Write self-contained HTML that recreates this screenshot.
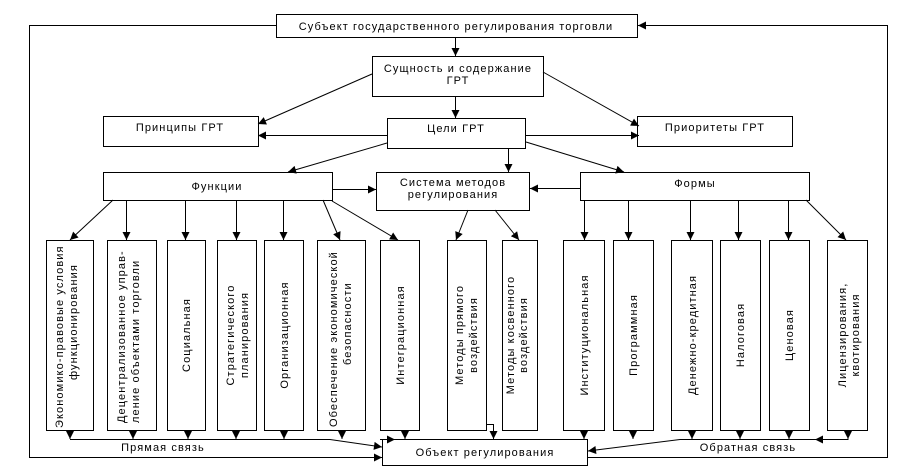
<!DOCTYPE html>
<html><head><meta charset="utf-8"><style>
html,body{margin:0;padding:0;background:#fff;}
svg{display:block;}
text{font-family:"Liberation Sans",sans-serif;font-size:11px;fill:#000;letter-spacing:1.1px;}
</style></head><body>
<svg width="900" height="475" viewBox="0 0 900 475" xmlns="http://www.w3.org/2000/svg">
<defs>
<marker id="a" viewBox="0 0 10 10" refX="10" refY="5" markerWidth="12" markerHeight="8" markerUnits="userSpaceOnUse" orient="auto"><path d="M0,0L10,5L0,10z" fill="#000"/></marker>
</defs>
<g fill="none" stroke="#000" stroke-width="1">
<rect x="276.5" y="14.5" width="361" height="23"/>
<rect x="372.5" y="56.5" width="171" height="40"/>
<rect x="103.5" y="116.5" width="155" height="30"/>
<rect x="387.5" y="118.5" width="138" height="30"/>
<rect x="637.5" y="116.5" width="155" height="30"/>
<rect x="103.5" y="172.5" width="229" height="28"/>
<rect x="376.5" y="172.5" width="153" height="38"/>
<rect x="580.5" y="172.5" width="229" height="28"/>
<rect x="382.5" y="439.5" width="205" height="26"/>
<rect x="46.5" y="240.5" width="47" height="190"/>
<rect x="107.5" y="240.5" width="49" height="190"/>
<rect x="167.5" y="240.5" width="38" height="190"/>
<rect x="217.5" y="240.5" width="39" height="190"/>
<rect x="264.5" y="240.5" width="39" height="190"/>
<rect x="317.5" y="240.5" width="48" height="190"/>
<rect x="380.5" y="240.5" width="39" height="190"/>
<rect x="447.5" y="240.5" width="39" height="190"/>
<rect x="502.5" y="240.5" width="35" height="190"/>
<rect x="563.5" y="240.5" width="41" height="190"/>
<rect x="613.5" y="240.5" width="40" height="190"/>
<rect x="671.5" y="240.5" width="41" height="190"/>
<rect x="720.5" y="240.5" width="40" height="190"/>
<rect x="769.5" y="240.5" width="40" height="190"/>
<rect x="827.5" y="240.5" width="40" height="190"/>
<polyline points="276,25.5 29.5,25.5 29.5,457.5 382,457.5" marker-end="url(#a)"/>
<polyline points="587,457.5 887.5,457.5 887.5,25.5 638,25.5" marker-end="url(#a)"/>
<line x1="455.5" y1="37" x2="455.5" y2="56" marker-end="url(#a)"/>
<line x1="455.5" y1="96" x2="455.5" y2="118" marker-end="url(#a)"/>
<line x1="372" y1="74" x2="258" y2="124" marker-end="url(#a)"/>
<line x1="543" y1="72" x2="639" y2="126" marker-end="url(#a)"/>
<line x1="387" y1="135.5" x2="258" y2="135.5" marker-end="url(#a)"/>
<line x1="525" y1="135.5" x2="639" y2="135.5" marker-end="url(#a)"/>
<line x1="387" y1="143" x2="288" y2="172" marker-end="url(#a)"/>
<line x1="508.5" y1="148" x2="508.5" y2="172" marker-end="url(#a)"/>
<line x1="526" y1="142" x2="624" y2="172" marker-end="url(#a)"/>
<line x1="332" y1="189.5" x2="376" y2="189.5" marker-end="url(#a)"/>
<line x1="580" y1="188.5" x2="530" y2="188.5" marker-end="url(#a)"/>
<line x1="113" y1="200" x2="70" y2="240" marker-end="url(#a)"/>
<line x1="126.5" y1="200" x2="126.5" y2="240" marker-end="url(#a)"/>
<line x1="185.5" y1="200" x2="185.5" y2="240" marker-end="url(#a)"/>
<line x1="236.5" y1="200" x2="236.5" y2="240" marker-end="url(#a)"/>
<line x1="283.5" y1="200" x2="283.5" y2="240" marker-end="url(#a)"/>
<line x1="323" y1="200" x2="340" y2="240" marker-end="url(#a)"/>
<line x1="332" y1="201" x2="398" y2="240" marker-end="url(#a)"/>
<line x1="468" y1="210" x2="456" y2="240" marker-end="url(#a)"/>
<line x1="495" y1="210" x2="519" y2="240" marker-end="url(#a)"/>
<line x1="584.5" y1="200" x2="584.5" y2="240" marker-end="url(#a)"/>
<line x1="628.5" y1="200" x2="628.5" y2="240" marker-end="url(#a)"/>
<line x1="690.5" y1="200" x2="690.5" y2="240" marker-end="url(#a)"/>
<line x1="738.5" y1="200" x2="738.5" y2="240" marker-end="url(#a)"/>
<line x1="788.5" y1="200" x2="788.5" y2="240" marker-end="url(#a)"/>
<line x1="806" y1="200" x2="846" y2="240" marker-end="url(#a)"/>
<line x1="70" y1="430" x2="70" y2="439" marker-end="url(#a)"/>
<line x1="133" y1="430" x2="133" y2="439" marker-end="url(#a)"/>
<line x1="188" y1="430" x2="188" y2="439" marker-end="url(#a)"/>
<line x1="236" y1="430" x2="236" y2="439" marker-end="url(#a)"/>
<line x1="284" y1="430" x2="284" y2="439" marker-end="url(#a)"/>
<line x1="342" y1="430" x2="342" y2="439" marker-end="url(#a)"/>
<line x1="405" y1="430" x2="405" y2="439" marker-end="url(#a)"/>
<line x1="584" y1="430" x2="584" y2="439" marker-end="url(#a)"/>
<line x1="633" y1="430" x2="633" y2="439" marker-end="url(#a)"/>
<line x1="692" y1="430" x2="692" y2="439" marker-end="url(#a)"/>
<line x1="740" y1="430" x2="740" y2="439" marker-end="url(#a)"/>
<line x1="789" y1="430" x2="789" y2="439" marker-end="url(#a)"/>
<line x1="848" y1="430" x2="848" y2="439" marker-end="url(#a)"/>
<polyline points="486,424.5 493.5,424.5 493.5,439" marker-end="url(#a)"/>
<polyline points="70,439.5 330,439.5 382,447" marker-end="url(#a)"/>
<line x1="380" y1="439.5" x2="395" y2="439.5" marker-end="url(#a)"/>
<polyline points="848,432.5 848,439.5 815,439.5" marker-end="url(#a)"/>
<polyline points="848,439.5 680,439.5 588,451" marker-end="url(#a)"/>
</g>
<g>
<text x="456" y="30" text-anchor="middle">Субъект государственного регулирования торговли</text>
<text x="458" y="72" text-anchor="middle">Сущность и содержание</text>
<text x="458" y="84" text-anchor="middle">ГРТ</text>
<text x="180" y="131" text-anchor="middle">Принципы ГРТ</text>
<text x="456" y="132" text-anchor="middle">Цели ГРТ</text>
<text x="715" y="131" text-anchor="middle">Приоритеты ГРТ</text>
<text x="217" y="190" text-anchor="middle">Функции</text>
<text x="453" y="186" text-anchor="middle">Система методов</text>
<text x="453" y="198" text-anchor="middle">регулирования</text>
<text x="695" y="187" text-anchor="middle">Формы</text>
<text x="485" y="456" text-anchor="middle">Объект регулирования</text>
<text x="163" y="451" text-anchor="middle">Прямая связь</text>
<text x="748" y="451" text-anchor="middle">Обратная связь</text>
</g>
<g>
<text transform="translate(63,428) rotate(-90)">Экономико-правовые условия</text>
<text transform="translate(77,380) rotate(-90)">функционирования</text>
<text transform="translate(125,423) rotate(-90)">Децентрализованное управ-</text>
<text transform="translate(139,423) rotate(-90)">ление объектами торговли</text>
<text transform="translate(190,335) rotate(-90) " text-anchor="middle">Социальная</text>
<text transform="translate(234,335) rotate(-90)" text-anchor="middle">Стратегического</text>
<text transform="translate(248,335) rotate(-90)" text-anchor="middle">планирования</text>
<text transform="translate(288,335) rotate(-90)" text-anchor="middle">Организационная</text>
<text transform="translate(337,427) rotate(-90)">Обеспечение экономической</text>
<text transform="translate(351,365) rotate(-90)">безопасности</text>
<text transform="translate(404,335) rotate(-90)" text-anchor="middle">Интеграционная</text>
<text transform="translate(463,335) rotate(-90)" text-anchor="middle">Методы прямого</text>
<text transform="translate(477,335) rotate(-90)" text-anchor="middle">воздействия</text>
<text transform="translate(514,335) rotate(-90)" text-anchor="middle">Методы косвенного</text>
<text transform="translate(527,335) rotate(-90)" text-anchor="middle">воздействия</text>
<text transform="translate(588,335) rotate(-90)" text-anchor="middle">Институциональная</text>
<text transform="translate(637,335) rotate(-90)" text-anchor="middle">Программная</text>
<text transform="translate(696,335) rotate(-90)" text-anchor="middle">Денежно-кредитная</text>
<text transform="translate(744,335) rotate(-90)" text-anchor="middle">Налоговая</text>
<text transform="translate(793,335) rotate(-90)" text-anchor="middle">Ценовая</text>
<text transform="translate(846,335) rotate(-90)" text-anchor="middle">Лицензирования,</text>
<text transform="translate(859,335) rotate(-90)" text-anchor="middle">квотирования</text>
</g>
</svg>
</body></html>
